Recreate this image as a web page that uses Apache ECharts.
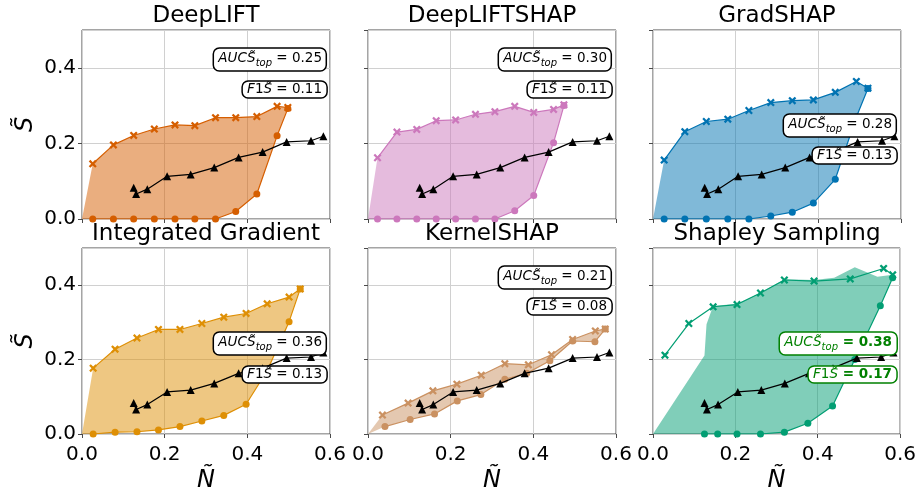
<!DOCTYPE html>
<html><head><meta charset="utf-8">
<script src="https://cdn.jsdelivr.net/npm/echarts@6/dist/echarts.min.js"></script>
<style>html,body{margin:0;padding:0;background:#fff}#c{width:919px;height:494px}</style>
</head><body><div id="c"></div>
<script>
// ---------- data ----------
const panelNames = ['DeepLIFT', 'DeepLIFTSHAP', 'GradSHAP', 'Integrated Gradient', 'KernelSHAP', 'Shapley Sampling'];
const xTicks = [0.0, 0.2, 0.4, 0.6];
const yTicks = [0.0, 0.2, 0.4];

// reference (black, triangles) curve – same in all panels
const refX = [0.125, 0.131, 0.158, 0.206, 0.263, 0.320, 0.379, 0.437, 0.495, 0.554, 0.584];
const refY = [0.083, 0.066, 0.079, 0.113, 0.118, 0.136, 0.163, 0.177, 0.204, 0.207, 0.219];

// DeepLIFT
const dlX     = [0.026, 0.076, 0.125, 0.175, 0.225, 0.273, 0.323, 0.372, 0.423, 0.472, 0.498];
const dlUpper = [0.146, 0.196, 0.221, 0.238, 0.249, 0.247, 0.268, 0.268, 0.271, 0.298, 0.295];
const dlLower = [0, 0, 0, 0, 0, 0, 0, 0.020, 0.066, 0.220, 0.292];
// DeepLIFTSHAP
const dlsX     = [0.023, 0.070, 0.118, 0.165, 0.212, 0.260, 0.307, 0.355, 0.401, 0.449, 0.474];
const dlsUpper = [0.162, 0.230, 0.237, 0.260, 0.262, 0.277, 0.284, 0.298, 0.282, 0.290, 0.302];
const dlsLower = [0, 0, 0, 0, 0, 0, 0, 0.022, 0.062, 0.202, 0.300];
// GradSHAP
const gsX     = [0.027, 0.077, 0.129, 0.181, 0.232, 0.285, 0.337, 0.388, 0.441, 0.492, 0.520];
const gsUpper = [0.156, 0.231, 0.258, 0.264, 0.287, 0.308, 0.313, 0.315, 0.335, 0.364, 0.346];
const gsLower = [0, 0, 0, 0, 0, 0.008, 0.018, 0.042, 0.105, 0.270, 0.345];
// Integrated Gradient
const igX     = [0.027, 0.080, 0.133, 0.185, 0.237, 0.290, 0.343, 0.397, 0.448, 0.501, 0.528];
const igUpper = [0.177, 0.228, 0.258, 0.281, 0.281, 0.297, 0.314, 0.324, 0.350, 0.368, 0.390];
const igLower = [0.000, 0.005, 0.006, 0.011, 0.020, 0.035, 0.050, 0.080, 0.170, 0.302, 0.390];
// KernelSHAP
const ksUpperX = [0.035, 0.097, 0.157, 0.215, 0.274, 0.331, 0.388, 0.444, 0.495, 0.550, 0.574];
const ksUpper  = [0.051, 0.083, 0.116, 0.134, 0.158, 0.189, 0.186, 0.213, 0.254, 0.277, 0.282];
const ksLowerX = [0.041, 0.102, 0.161, 0.216, 0.273, 0.331, 0.384, 0.440, 0.495, 0.549, 0.574];
const ksLower  = [0.020, 0.039, 0.054, 0.089, 0.106, 0.147, 0.163, 0.197, 0.250, 0.248, 0.282];
// Shapley Sampling
const ssUpperX = [0.029, 0.087, 0.146, 0.204, 0.261, 0.319, 0.391, 0.479, 0.560, 0.582];
const ssUpper  = [0.212, 0.297, 0.342, 0.348, 0.379, 0.414, 0.411, 0.417, 0.445, 0.428];
const ssLowerX = [0.125, 0.157, 0.204, 0.261, 0.319, 0.376, 0.436, 0.490, 0.552, 0.582];
const ssLower  = [0, 0, 0, 0, 0.005, 0.029, 0.075, 0.200, 0.345, 0.420];
const ssFillX  = [0, 0.125, 0.130, 0.146, 0.204, 0.261, 0.319, 0.391, 0.440, 0.490, 0.545, 0.582, 0.582, 0.552, 0.490, 0.436, 0.376, 0.319, 0.261];
const ssFillY  = [0, 0.211, 0.295, 0.344, 0.350, 0.380, 0.416, 0.414, 0.420, 0.448, 0.423, 0.428, 0.420, 0.345, 0.200, 0.075, 0.029, 0.005, 0];

const aucValues = ['0.25', '0.30', '0.28', '0.36', '0.21', '0.38'];
const f1Values  = ['0.11', '0.11', '0.13', '0.13', '0.08', '0.17'];

// ---------- helpers ----------
const zip = (xs, ys) => xs.map((x, i) => [x, ys[i]]);
const between = (ux, uy, lx, ly) => [[0, 0]].concat(zip(ux, uy), zip(lx, ly).reverse());

const panels = [
  {up: zip(dlX, dlUpper),  lo: zip(dlX, dlLower),  fill: between(dlX, dlUpper, dlX, dlLower)},
  {up: zip(dlsX, dlsUpper), lo: zip(dlsX, dlsLower), fill: between(dlsX, dlsUpper, dlsX, dlsLower)},
  {up: zip(gsX, gsUpper),  lo: zip(gsX, gsLower),  fill: between(gsX, gsUpper, gsX, gsLower)},
  {up: zip(igX, igUpper),  lo: zip(igX, igLower),  fill: between(igX, igUpper, igX, igLower)},
  {up: zip(ksUpperX, ksUpper), lo: zip(ksLowerX, ksLower), fill: between(ksUpperX, ksUpper, ksLowerX, ksLower)},
  {up: zip(ssUpperX, ssUpper), lo: zip(ssLowerX, ssLower), fill: zip(ssFillX, ssFillY)}
];
const colors = ['#d55e00', '#cc78bc', '#0173b2', '#de8f05', '#ca9161', '#029e73'];
const fills  = ['rgba(213,94,0,0.5)', 'rgba(204,120,188,0.5)', 'rgba(1,115,178,0.5)', 'rgba(222,143,5,0.5)', 'rgba(202,145,97,0.5)', 'rgba(2,158,115,0.5)'];

const colLeft = [82, 368, 653];
const colW = 248;
const rowTop = [30, 248];
const rowH = [189, 188];

// annotation boxes: right edge, top of AUC box, top of F1 box
const boxRight = [327, 612, 897, 327, 612, 897];
const boxTop   = [45, 45, 111, 329, 263, 329];
const f1Top    = [78, 78, 144, 363, 295, 363];

const FONT = 'DejaVu Sans';
const xPath = 'path://M0,2 L2,0 L5,3 L8,0 L10,2 L7,5 L10,8 L8,10 L5,7 L2,10 L0,8 L3,5 Z';

const grids = [], xAxes = [], yAxes = [], series = [], titles = [];
for (let i = 0; i < 6; i++) {
  const r = Math.floor(i / 3), c = i % 3;
  grids.push({left: colLeft[c], top: rowTop[r], width: colW, height: rowH[r],
    show: true, borderColor: '#4a4a4a', borderWidth: 1, backgroundColor: 'transparent'});
  xAxes.push({type: 'value', gridIndex: i, min: 0, max: 0.6, interval: 0.2,
    axisLine: {show: false},
    axisTick: {show: true, length: 4, lineStyle: {color: '#4a4a4a'}},
    axisLabel: {show: r === 1, fontSize: 20, color: '#000', fontFamily: FONT, margin: 11,
      formatter: v => v.toFixed(1)},
    splitLine: {show: true, lineStyle: {color: '#d0d0d0', width: 1}},
    name: r === 1 ? 'N\u0303' : '', nameLocation: 'middle', nameGap: 35,
    nameTextStyle: {fontSize: 24, fontStyle: 'italic', fontFamily: FONT, color: '#000'}
  });
  yAxes.push({type: 'value', gridIndex: i, min: 0, max: 0.5, interval: 0.2,
    axisLine: {show: false},
    axisTick: {show: true, length: 4, lineStyle: {color: '#4a4a4a'}},
    axisLabel: {show: c === 0, fontSize: 20, color: '#000', fontFamily: FONT, margin: 6,
      showMaxLabel: false, formatter: v => (Math.abs(v * 10 % 2) < 1e-6 ? v.toFixed(1) : '')},
    splitLine: {show: true, lineStyle: {color: '#d0d0d0', width: 1}},
    name: c === 0 ? 'S\u0303' : '', nameLocation: 'middle', nameGap: 44, nameRotate: 90,
    nameTextStyle: {fontSize: 24, fontStyle: 'italic', fontFamily: FONT, color: '#000'}
  });
  const p = panels[i];
  const fillPts = p.fill;
  series.push({type: 'custom', xAxisIndex: i, yAxisIndex: i, data: fillPts, encode: {x: 0, y: 1},
    silent: true,
    renderItem: (params, api) => {
      if (params.dataIndex !== 0) return null;
      const pts = fillPts.map(q => api.coord(q));
      return {type: 'polygon', shape: {points: pts}, style: {fill: fills[i], stroke: null}};
    }});
  series.push({type: 'line', xAxisIndex: i, yAxisIndex: i, data: p.up, symbol: xPath, symbolSize: 8,
    showAllSymbol: true, lineStyle: {color: colors[i], width: 1.2}, itemStyle: {color: colors[i]}, animation: false});
  series.push({type: 'line', xAxisIndex: i, yAxisIndex: i, data: p.lo, symbol: 'circle', symbolSize: 7,
    showAllSymbol: true, lineStyle: {color: colors[i], width: 1.2}, itemStyle: {color: colors[i]}, animation: false});
  series.push({type: 'line', xAxisIndex: i, yAxisIndex: i, data: zip(refX, refY), symbol: 'triangle', symbolSize: 8,
    showAllSymbol: true, lineStyle: {color: '#000', width: 1.2}, itemStyle: {color: '#000'}, animation: false, z: 5});

  // panel title
  titles.push({text: panelNames[i], left: colLeft[c] + colW / 2, top: rowTop[r] - 25, textAlign: 'center', padding: 0,
    textStyle: {fontSize: 23, fontWeight: 'normal', fontFamily: FONT, color: '#000'}});

  // annotation boxes
  const best = i === 5;
  const tc = best ? '#008000' : '#000';
  const fs = 13.5;
  const rich = {
    i: {fontFamily: FONT, fontStyle: 'italic', fontWeight: 'normal', fontSize: fs, color: tc, lineHeight: 19},
    r: {fontFamily: FONT, fontWeight: 'normal', fontSize: fs, color: tc, lineHeight: 19},
    sub: {fontFamily: FONT, fontStyle: 'italic', fontWeight: 'normal', fontSize: 10, color: tc, lineHeight: 11, verticalAlign: 'bottom'},
    n: {fontFamily: FONT, fontSize: fs, color: tc, lineHeight: 19, fontWeight: best ? 'bold' : 'normal'}
  };
  const boxBase = {right: 919 - boxRight[i], backgroundColor: '#fff', borderColor: tc, borderWidth: 1.5,
    borderRadius: 6, z: 10};
  titles.push(Object.assign({}, boxBase, {top: boxTop[i], padding: [4, 5, 3, 5],
    text: '{i|AUCS\u0303}{sub|top}{n| = ' + aucValues[i] + '}', textStyle: {fontWeight: 'normal', rich: rich}}));
  titles.push(Object.assign({}, boxBase, {top: f1Top[i], padding: [2, 5, 2, 5],
    text: '{i|F}{r|1}{i|S\u0303}{n| = ' + f1Values[i] + '}', textStyle: {fontWeight: 'normal', rich: rich}}));
}

const chart = echarts.init(document.getElementById('c'), null, {renderer: 'canvas'});
chart.setOption({
  animation: false,
  backgroundColor: '#fff',
  title: titles,
  grid: grids,
  xAxis: xAxes,
  yAxis: yAxes,
  series: series
});
</script>
</body></html>
